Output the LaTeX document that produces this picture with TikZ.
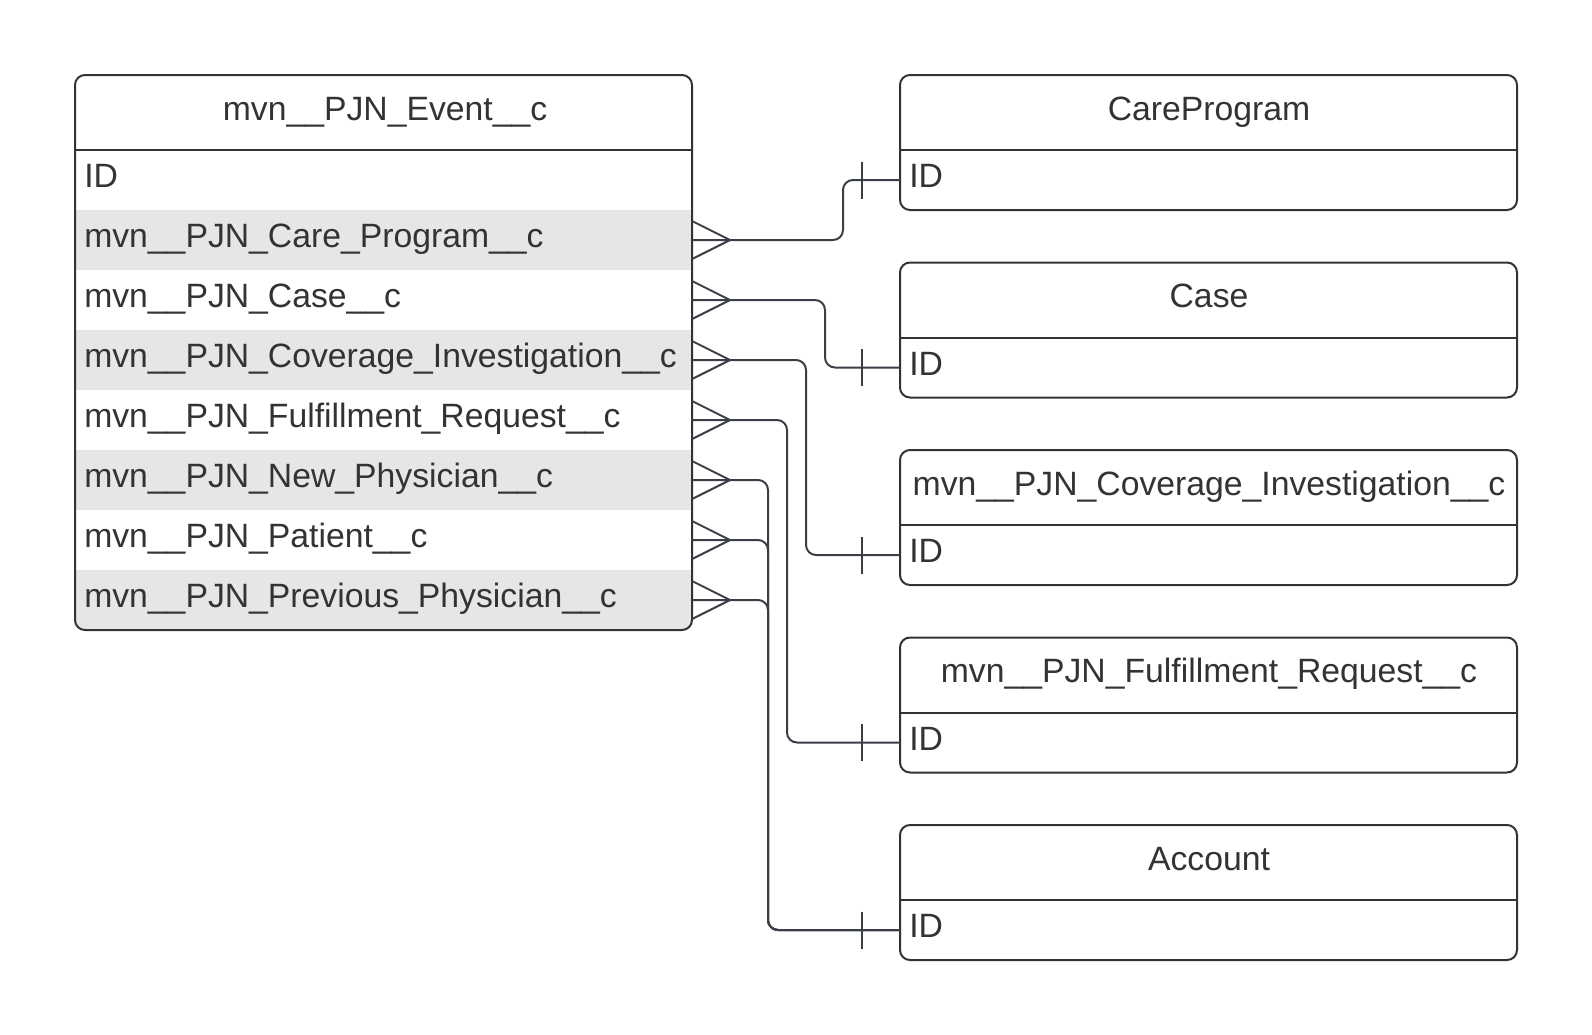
\documentclass[tikz,border=0pt]{standalone}
\usepackage{fontspec}
\setmainfont{Liberation Sans}
\definecolor{txt}{HTML}{333333}
\definecolor{ln}{HTML}{3A3F47}
\definecolor{rowg}{HTML}{E6E6E6}
\begin{document}
\begin{tikzpicture}[x=0.75pt,y=-0.75pt,
  boxline/.style={draw=txt,line width=1.5pt},
  rowbox/.style={minimum width=617*0.75pt,minimum height=60*0.75pt,inner sep=0pt,anchor=north west,outer sep=0pt},
  ridbox/.style={minimum width=617*0.75pt,minimum height=60*0.75pt,inner sep=0pt,anchor=north west,outer sep=0pt},
  lbl/.style={inner sep=0pt,anchor=base west,text=txt,font=\fontsize{25.3}{30}\selectfont},
  hdr/.style={inner sep=0pt,anchor=base,text=txt,font=\fontsize{25.3}{30}\selectfont},
  conn/.style={draw=ln,line width=1.5pt,rounded corners=10*0.75pt},
  foot/.style={draw=ln,line width=1.5pt},
  tick/.style={draw=ln,line width=1.5pt}]
\useasboundingbox (0,0) rectangle (1592,1035);
\fill[white] (0,0) rectangle (1592,1035);
% ---------- left entity ----------
\begin{scope}
\clip[rounded corners=10*0.75pt] (75,75) rectangle (692,630);
\node[rowbox] (idrow) at (75,150) {};
\node[rowbox,fill=rowg] (care) at (75,210) {};
\node[rowbox] (case) at (75,270) {};
\node[rowbox,fill=rowg] (cov) at (75,330) {};
\node[rowbox] (ful) at (75,390) {};
\node[rowbox,fill=rowg] (newp) at (75,450) {};
\node[rowbox] (pat) at (75,510) {};
\node[rowbox,fill=rowg] (prev) at (75,570) {};
\end{scope}
\draw[boxline,rounded corners=10*0.75pt] (75,75) rectangle (692,630);
\draw[boxline] (75,150) -- (692,150);
\node[hdr] (evt) at (385,120) {mvn\_\_PJN\_Event\_\_c};
\node[lbl] (tid) at ([shift={(9,7.5)}]idrow.west) {ID};
\node[lbl] (tcare) at ([shift={(9,7.5)}]care.west) {mvn\_\_PJN\_Care\_Program\_\_c};
\node[lbl] (tcase) at ([shift={(9,7.5)}]case.west) {mvn\_\_PJN\_Case\_\_c};
\node[lbl] (tcov) at ([shift={(9,7.5)}]cov.west) {mvn\_\_PJN\_Coverage\_Investigation\_\_c};
\node[lbl] (tful) at ([shift={(9,7.5)}]ful.west) {mvn\_\_PJN\_Fulfillment\_Request\_\_c};
\node[lbl] (tnew) at ([shift={(9,7.5)}]newp.west) {mvn\_\_PJN\_New\_Physician\_\_c};
\node[lbl] (tpat) at ([shift={(9,7.5)}]pat.west) {mvn\_\_PJN\_Patient\_\_c};
\node[lbl] (tprev) at ([shift={(9,7.5)}]prev.west) {mvn\_\_PJN\_Previous\_Physician\_\_c};
% ---------- right entities ----------
\foreach \nm/\top/\title in {cp/75/CareProgram, cs/262.5/Case, ci/450/mvn\_\_PJN\_Coverage\_Investigation\_\_c, fr/637.5/mvn\_\_PJN\_Fulfillment\_Request\_\_c, ac/825/Account}{
  \draw[boxline,rounded corners=10*0.75pt] (900,\top) rectangle (1517,\top+135);
  \draw[boxline] (900,\top+75) -- (1517,\top+75);
  \node[hdr] (\nm hdr) at (1209,\top+45) {\title};
  \node[ridbox] (\nm id) at (900,\top+75) {};
  \node[lbl] (\nm idt) at ([shift={(9,7.5)}]\nm id.west) {ID};
}
% ---------- connectors ----------
\coordinate (v1) at (843,0);
\coordinate (v2) at (825,0);
\coordinate (v3) at (806,0);
\coordinate (v4) at (787,0);
\coordinate (v5) at (768,0);
\draw[conn] (care.east) -- (care.east -| v1) |- (cpid.west);
\draw[conn] (case.east) -- (case.east -| v2) |- (csid.west);
\draw[conn] (cov.east) -- (cov.east -| v3) |- (ciid.west);
\draw[conn] (ful.east) -- (ful.east -| v4) |- (frid.west);
\draw[conn] (newp.east) -- (newp.east -| v5) |- (acid.west);
\draw[conn] (pat.east) -- (pat.east -| v5) |- (acid.west);
\draw[conn] (prev.east) -- (prev.east -| v5) |- (acid.west);
% crow's feet
\foreach \r in {care,case,cov,ful,newp,pat,prev}{
  \draw[foot] ([shift={(0,-19)}]\r.east) -- ++(38,19) -- ++(-38,19);
}
% one-marks
\foreach \r in {cpid,csid,ciid,frid,acid}{
  \draw[tick] ([shift={(-38,-18.5)}]\r.west) -- ++(0,37);
}
\end{tikzpicture}
\end{document}
